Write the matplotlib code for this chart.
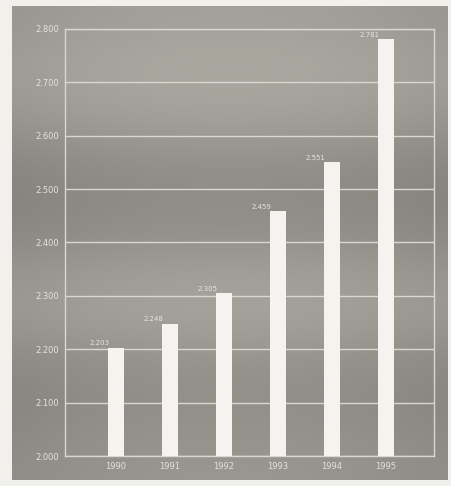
import numpy as np
import matplotlib.pyplot as plt

# Werte aus der Vorlage (in Tausend)
years = ['1990', '1991', '1992', '1993', '1994', '1995']
values = [2203, 2248, 2305, 2459, 2551, 2781]
value_labels = ['2.203', '2.248', '2.305', '2.459', '2.551', '2.781']
y_ticks = [2000, 2100, 2200, 2300, 2400, 2500, 2600, 2700, 2800]
y_tick_labels = ['2.000', '2.100', '2.200', '2.300', '2.400', '2.500', '2.600', '2.700', '2.800']

# Helligkeit des grauen Hintergrunds von oben nach unten
bg_shades = [0.64, 0.67, 0.66, 0.62, 0.57, 0.56, 0.59, 0.64, 0.65, 0.60, 0.57, 0.58, 0.60]

fig = plt.figure(figsize=(4.51, 4.86), dpi=100)
fig.patch.set_facecolor('#f1f0ec')

# grauer Hintergrund mit Verlauf, leicht warm getoent
bg = fig.add_axes([12 / 451, 6 / 486, 436 / 451, 474 / 486])
grad = np.array(bg_shades)[:, None] * np.ones((1, 20))
grad = grad * (1 - 0.06 * np.abs(np.linspace(-1, 1, 20)) ** 2)
tint = np.array([1.0, 0.985, 0.94])
img = np.clip(grad[:, :, None] * tint, 0, 1)
bg.imshow(img, aspect='auto', interpolation='bicubic', extent=[0, 1, 0, 1])
bg.set_axis_off()

ax = fig.add_axes([65 / 451, 30 / 486, 369 / 451, 427 / 486])
ax.patch.set_alpha(0)
x = np.arange(len(years))
ax.bar(x, values, width=0.3, color='#f4f3ef', zorder=3)

for xi, v, lab in zip(x, values, value_labels):
    ax.annotate(lab, (xi, v), xytext=(-12, 3), textcoords='offset points',
                ha='center', va='center', fontsize=5, color='#e6e4dc')

ax.set_ylim(2000, 2800)
ax.set_xlim(-0.94, 5.89)
ax.set_yticks(y_ticks)
ax.set_yticklabels(y_tick_labels)
ax.set_xticks(x)
ax.set_xticklabels(years)
ax.tick_params(length=0, labelsize=6, labelcolor='#e4e2da', pad=4)
ax.grid(axis='y', color='#d9d7cf', linewidth=1, zorder=1)
for s in ax.spines.values():
    s.set_color('#d9d7cf')
    s.set_linewidth(1)

plt.savefig('out.png', dpi=100)
